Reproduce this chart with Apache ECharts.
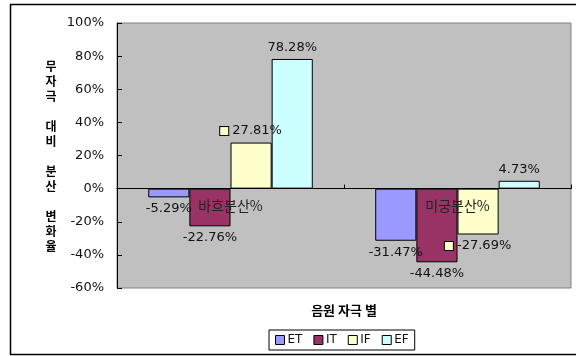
<!DOCTYPE html>
<html>
<head>
<meta charset="utf-8">
<script src="https://cdn.jsdelivr.net/npm/echarts@6/dist/echarts.min.js"></script>
<style>
  html, body { margin: 0; padding: 0; background: #fff; }
  #chart { width: 576px; height: 356px; }
</style>
</head>
<body>
<div id="chart"></div>
<script>
// Stimulus categories and per-condition change ratios (%)
const categories = ['바흐분산%', '미궁분산%'];
const seriesNames = ['ET', 'IT', 'IF', 'EF'];
const etValues = [-5.29, -31.47];
const itValues = [-22.76, -44.48];
const ifValues = [27.81, -27.69];
const efValues = [78.28, 4.73];
const yMin = -60, yMax = 100, yStep = 20;

const yTitle = '무\n자\n극\n\n대\n비\n\n분\n산\n\n변\n화\n율';
const xTitle = '음원 자극 별';

const barColors = ['#9999FF', '#993366', '#FFFFCC', '#CCFFFF'];
const FONT = '"DejaVu Sans", "Noto Sans CJK KR", sans-serif';
const KFONT = '"Noto Sans CJK KR", "DejaVu Sans", sans-serif';

// plot box
const GRID = { left: 117, top: 23, width: 454, height: 265 };
// the category axis sits on the zero line: shift it up from the bottom edge
const zeroOffset = -GRID.height * (0 - yMin) / (yMax - yMin);

const pct = v => v.toFixed(2) + '%';

function makeSeries(name, values, color, withKey) {
  const label = {
    show: true,
    position: 'outside',
    distance: 5,
    color: '#111',
    fontFamily: FONT,
    fontSize: 13,
    formatter: p => pct(p.value)
  };
  if (withKey) {
    label.formatter = p => '{k|}{v| ' + pct(p.value) + '}';
    label.rich = {
      k: { width: 8, height: 8, backgroundColor: color, borderColor: '#000', borderWidth: 1 },
      v: { color: '#111', fontFamily: FONT, fontSize: 13 }
    };
  }
  return {
    name: name,
    type: 'bar',
    data: values,
    barGap: 0,
    barCategoryGap: '27.5%',
    itemStyle: { color: color, borderColor: '#000', borderWidth: 1 },
    label: label
  };
}

const chart = echarts.init(document.getElementById('chart'), null, { renderer: 'canvas' });
chart.setOption({
  animation: false,
  backgroundColor: '#fff',
  grid: Object.assign({}, GRID, {
    show: true, backgroundColor: '#C0C0C0', borderColor: '#808080', borderWidth: 1
  }),
  legend: {
    data: seriesNames,
    left: 269, top: 330,
    orient: 'horizontal',
    itemWidth: 9, itemHeight: 9, itemGap: 11,
    padding: [4, 6],
    borderColor: '#000', borderWidth: 1,
    icon: 'rect',
    itemStyle: { borderColor: '#000', borderWidth: 1 },
    textStyle: { fontFamily: FONT, fontSize: 12, color: '#111', padding: [0, 0, 0, -2] }
  },
  xAxis: {
    type: 'category',
    data: categories,
    z: 10,
    position: 'bottom',
    offset: zeroOffset,
    axisLine: { onZero: false, lineStyle: { color: '#000', width: 1 } },
    axisTick: { show: true, inside: true, length: 4, lineStyle: { color: '#000' } },
    axisLabel: { margin: 10, color: '#222', fontFamily: KFONT, fontSize: 14 },
    splitLine: { show: false }
  },
  yAxis: {
    type: 'value',
    min: yMin, max: yMax, interval: yStep,
    axisLine: { show: true, lineStyle: { color: '#000', width: 1 } },
    axisTick: { show: true, inside: true, length: 5, lineStyle: { color: '#000' } },
    axisLabel: { margin: 13, color: '#111', fontFamily: FONT, fontSize: 13, formatter: '{value}%' },
    splitLine: { show: false }
  },
  graphic: [
    {
      type: 'rect', silent: true, z: -1,
      shape: { x: 10.5, y: 4.5, width: 580, height: 350 },
      style: { fill: 'none', stroke: '#000', lineWidth: 1.5 }
    },
    {
      type: 'text', silent: true,
      style: {
        text: yTitle, x: 51, y: 156, fontFamily: KFONT, fontWeight: 'bold', fontSize: 12,
        lineHeight: 15, fill: '#000', align: 'center', verticalAlign: 'middle'
      }
    },
    {
      type: 'text', silent: true,
      style: {
        text: xTitle, x: 344, y: 310, fontFamily: KFONT, fontWeight: 'bold',
        fontSize: 13, fill: '#000', align: 'center', verticalAlign: 'middle'
      }
    }
  ],
  series: [
    makeSeries(seriesNames[0], etValues, barColors[0], false),
    makeSeries(seriesNames[1], itValues, barColors[1], false),
    makeSeries(seriesNames[2], ifValues, barColors[2], true),
    makeSeries(seriesNames[3], efValues, barColors[3], false)
  ]
});
</script>
</body>
</html>
